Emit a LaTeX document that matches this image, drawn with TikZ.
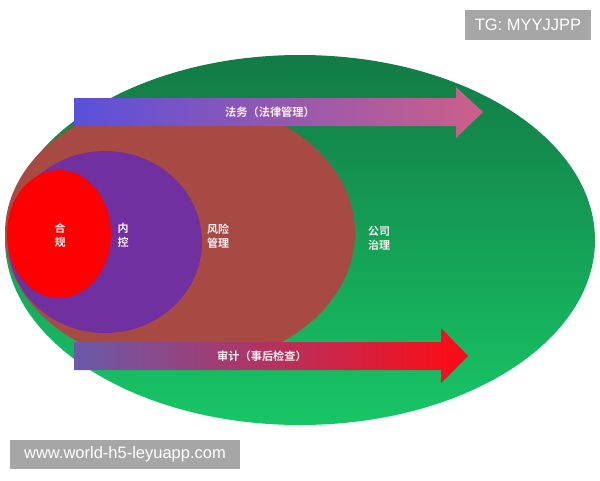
\documentclass[tikz,border=0pt]{standalone}
\usepackage{fontspec}
\setmainfont{Liberation Sans}
\newfontfamily\cjk{Noto Sans CJK SC}[BoldFont=* Bold]
\definecolor{gtop}{HTML}{127A45}
\definecolor{gbot}{HTML}{18C666}
\definecolor{brownc}{HTML}{A84A44}
\definecolor{purplec}{HTML}{7030A0}
\definecolor{redc}{HTML}{FF0000}
\definecolor{taL}{HTML}{5A50DA}
\definecolor{taM}{HTML}{9655B2}
\definecolor{taR}{HTML}{CD6088}
\definecolor{baL}{HTML}{695AAA}
\definecolor{baM}{HTML}{E83269}
\definecolor{baR}{HTML}{FF0A14}
\definecolor{wmgray}{HTML}{A6A6A6}
\definecolor{txt}{HTML}{F6EEF2}
\begin{document}
\begin{tikzpicture}[x=1pt,y=-1pt,
  lbl/.style={text=txt,font=\cjk\bfseries\fontsize{11}{14}\selectfont,align=center,inner sep=0pt},
  arrlbl/.style={text=txt,font=\cjk\bfseries\fontsize{11.2}{13}\selectfont,inner sep=0pt},
  wm/.style={fill=wmgray,text=white,font=\fontsize{16.5}{18}\selectfont,inner sep=0pt,anchor=center}]
\useasboundingbox (0,0) rectangle (600,480);
\fill[white] (0,0) rectangle (600,480);
% green outer ellipse
\shade[top color=gtop, bottom color=gbot]
  (300,240) ellipse [x radius=295pt, y radius=185pt];
% brown ellipse
\fill[brownc] (180,233) ellipse [x radius=175pt, y radius=134pt];
% purple
\fill[purplec] (105,242) ellipse [x radius=97pt, y radius=91pt];
% red
\fill[redc] (59,234) ellipse [x radius=52pt, y radius=64pt];
% top arrow
\shade[left color=taL, middle color=taM, right color=taR]
  (74,98) -- (456,98) -- (456,87) -- (483,112) -- (456,138) -- (456,126) -- (74,126) -- cycle;
% bottom arrow
\shade[left color=baL, middle color=baM, right color=baR]
  (74,342) -- (441,342) -- (441,328) -- (468,356) -- (441,383) -- (441,370) -- (74,370) -- cycle;
% labels
\node[arrlbl] (fawu) at (270,112) {法务（法律管理）};
\node[arrlbl] (shenji) at (262,356) {审计（事后检查）};
\node[lbl] (hegui) at (60,235) {合\\规};
\node[lbl] (neikong) at (123,235) {内\\控};
\node[lbl] (fengxian) at (218,236) {风险\\管理};
\node[lbl] (gongsi) at (379,238) {公司\\治理};
% watermarks
\node[wm, minimum width=126pt, minimum height=30pt] (tg) at (528,25) {TG: MYYJJPP};
\node[wm, minimum width=230pt, minimum height=29pt] (www) at (125,454.5) {www.world-h5-leyuapp.com};
\end{tikzpicture}
\end{document}
